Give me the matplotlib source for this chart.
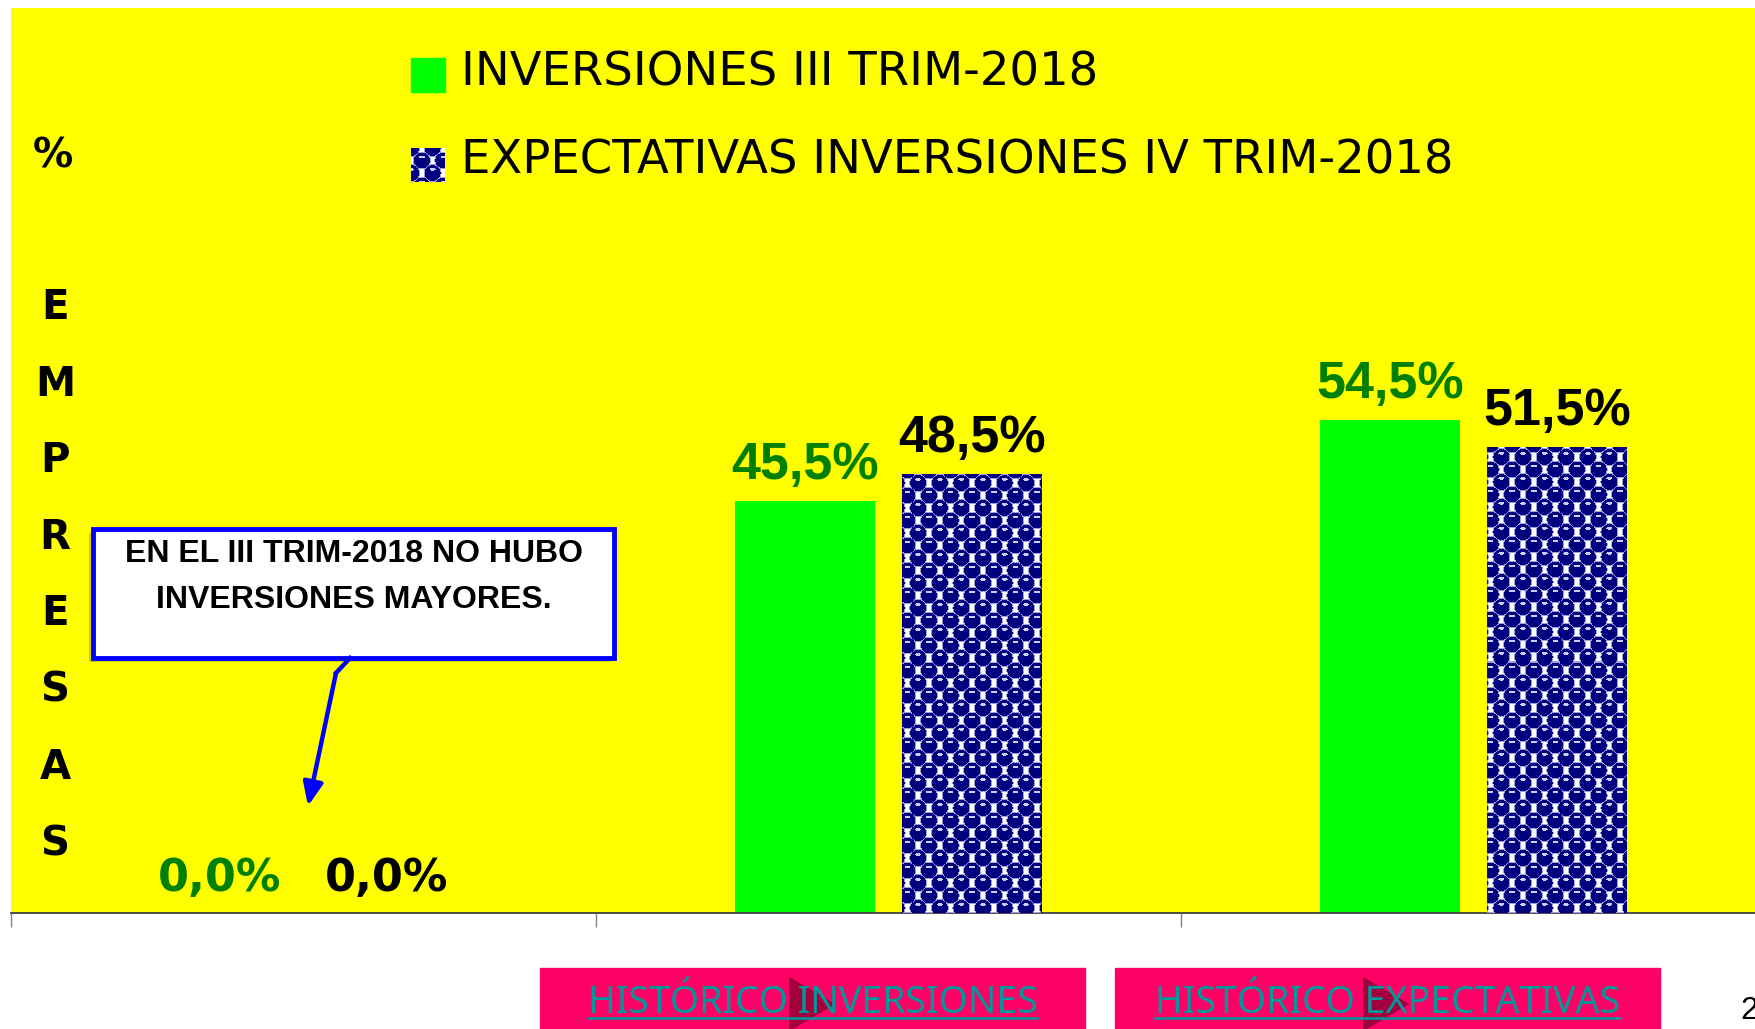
import numpy as np
import matplotlib.pyplot as plt
from matplotlib.patches import Rectangle, Polygon, FancyArrowPatch
from matplotlib.lines import Line2D

# datos
categorias = ['', '', '']
inversiones = [0.0, 45.5, 54.5]
expectativas = [0.0, 48.5, 51.5]
series = ['INVERSIONES III TRIM-2018', 'EXPECTATIVAS INVERSIONES IV TRIM-2018']
eje_y = ['E', 'M', 'P', 'R', 'E', 'S', 'A', 'S']
nota = 'EN EL III TRIM-2018 NO HUBO\nINVERSIONES MAYORES.'
botones = ['HISTÓRICO INVERSIONES', 'HISTÓRICO EXPECTATIVAS']

W, H = 1756, 1029
fig = plt.figure(figsize=(W / 100, H / 100), dpi=100)
fig.patch.set_facecolor('white')


def fx(px):
    return px / W


def fy(py):
    return 1 - py / H


def puntos(h, w, p=21.6, paso=12.5, rad=8.0):
    # relleno de "bolitas" azul marino sobre blanco
    yy, xx = np.mgrid[0:h, 0:w] + 0.5
    img = np.ones((h, w, 3))
    best = np.full((h, w), np.inf)
    bx = np.zeros((h, w))
    by = np.zeros((h, w))
    k0 = np.floor(yy / paso)
    for k in (k0, k0 + 1):
        sh = (k % 2) * p / 2
        cx = np.round((xx - sh) / p) * p + sh
        cy = k * paso
        d = np.hypot(xx - cx, yy - cy)
        m = d < best
        best[m] = d[m]
        bx[m] = (xx - cx)[m]
        by[m] = (yy - cy)[m]
    img[best < rad + 1.0] = [0.62, 0.62, 0.85]
    img[best < rad] = [0, 0, 0.5]
    brillo = (bx / 3.0) ** 2 + ((by + rad * 0.45) / 1.4) ** 2 < 1
    img[brillo] = [0.8, 0.8, 1.0]
    return img


ax = fig.add_axes([fx(11), fy(913), 1755 / W, (913 - 8) / H])
ax.set_facecolor('#FFFF00')

x = np.arange(len(categorias))
ancho = 0.239
sep = 0.1427

b1 = ax.bar(x - sep, inversiones, ancho, color='#00FF00', zorder=2)
b2 = ax.bar(x + sep, expectativas, ancho, color='#000080', zorder=2)

patron = puntos(905, 1755)
for bar in b2:
    if bar.get_height() > 0:
        im = ax.imshow(patron, extent=(-0.5, 2.5, 0, 100), aspect='auto',
                       interpolation='nearest', zorder=3)
        im.set_clip_path(bar)


def etiqueta(v):
    return f'{v:.1f}%'.replace('.', ',')


for bars, col in ((b1, '#008000'), (b2, 'black')):
    for bar in bars:
        v = bar.get_height()
        fam = 'DejaVu Sans' if v == 0 else 'Liberation Sans'
        size = 32 if v == 0 else 37.5
        ax.annotate(etiqueta(v), (bar.get_x() + bar.get_width() / 2, v),
                    xytext=(0, 16), textcoords='offset points',
                    ha='center', va='baseline', color=col,
                    fontsize=size, fontweight='bold', family=fam, zorder=5)

ax.set_xlim(-0.5, 2.5)
ax.set_ylim(0, 100)
ax.set_xticks(x)
ax.set_xticklabels(categorias)
ax.set_xticks([-0.5, 0.5, 1.5, 2.5], minor=True)
ax.tick_params(axis='x', which='major', length=0)
ax.tick_params(axis='x', which='minor', length=10, width=1, color='#808080')
ax.set_yticks([])
for s in ('left', 'right', 'top'):
    ax.spines[s].set_visible(False)
ax.spines['bottom'].set_color('#404040')
ax.spines['bottom'].set_linewidth(1.3)

# eje vertical escrito letra a letra
fig.text(fx(53), fy(157), '%', ha='center', va='center', fontsize=29,
         fontweight='bold', family='DejaVu Sans')
for i, letra in enumerate(eje_y):
    fig.text(fx(55), fy(308 + i * 76.6), letra, ha='center', va='center',
             fontsize=29, fontweight='bold', family='DejaVu Sans')

# leyenda
fig.patches.append(Rectangle((fx(411), fy(92)), 34 / W, 34 / H,
                             transform=fig.transFigure, color='#00FF00'))
axl = fig.add_axes([fx(411), fy(182), 34 / W, 34 / H])
axl.imshow(puntos(34, 34), interpolation='nearest', aspect='auto')
axl.axis('off')
fig.text(fx(461), fy(85), series[0], va='baseline', fontsize=33.5,
         family='DejaVu Sans')
fig.text(fx(461), fy(173), series[1], va='baseline', fontsize=33.5,
         family='DejaVu Sans')

# nota con flecha
fig.patches.append(Rectangle((fx(89), fy(662)), (614 - 93) / W, (658 - 529) / H,
                             transform=fig.transFigure, facecolor='#808000',
                             edgecolor='none', alpha=0.35))
fig.patches.append(Rectangle((fx(93), fy(658)), (614 - 93) / W, (658 - 529) / H,
                             transform=fig.transFigure, facecolor='white',
                             edgecolor='#0000FF', linewidth=3.5))
fig.text(fx(354), fy(554), nota.split('\n')[0], ha='center', va='center',
         fontsize=23, fontweight='bold', family='Liberation Sans')
fig.text(fx(354), fy(600), nota.split('\n')[1], ha='center', va='center',
         fontsize=23, fontweight='bold', family='Liberation Sans')
fig.lines.append(Line2D([fx(350), fx(336)], [fy(658), fy(673)],
                        transform=fig.transFigure, color='#0000FF', lw=3.2))
fig.patches.append(FancyArrowPatch((fx(336), fy(673)), (fx(308), fy(806)),
                                   transform=fig.transFigure,
                                   arrowstyle='-|>,head_length=0.7,head_width=0.3',
                                   mutation_scale=20, color='#0000FF', lw=3.2,
                                   shrinkA=0, shrinkB=0))

# botones inferiores
for (x0, x1, tri), txt in zip(((540, 1085, 790), (1115, 1660, 1364)), botones):
    fig.patches.append(Rectangle((fx(x0), 0), (x1 - x0) / W, fy(968),
                                 transform=fig.transFigure, color='#FF0066'))
    fig.patches.append(Polygon([(fx(tri), fy(978)), (fx(tri + 44), fy(1004)),
                                (fx(tri), fy(1030))], closed=True,
                               transform=fig.transFigure, color='#99003A',
                               alpha=0.9))
    t = fig.text(fx((x0 + x1) / 2), fy(1013), txt, ha='center', va='baseline',
                 fontsize=27, color='#009999', family='Noto Sans')
    fig.canvas.draw()
    bb = t.get_window_extent().transformed(fig.transFigure.inverted())
    fig.lines.append(Line2D([bb.x0, bb.x1], [fy(1018), fy(1018)],
                            transform=fig.transFigure, color='#009999', lw=1.8))

fig.text(fx(1740), fy(1011), '2', va='center', fontsize=23,
         family='Liberation Sans')

fig.savefig('out.png', dpi=100)
